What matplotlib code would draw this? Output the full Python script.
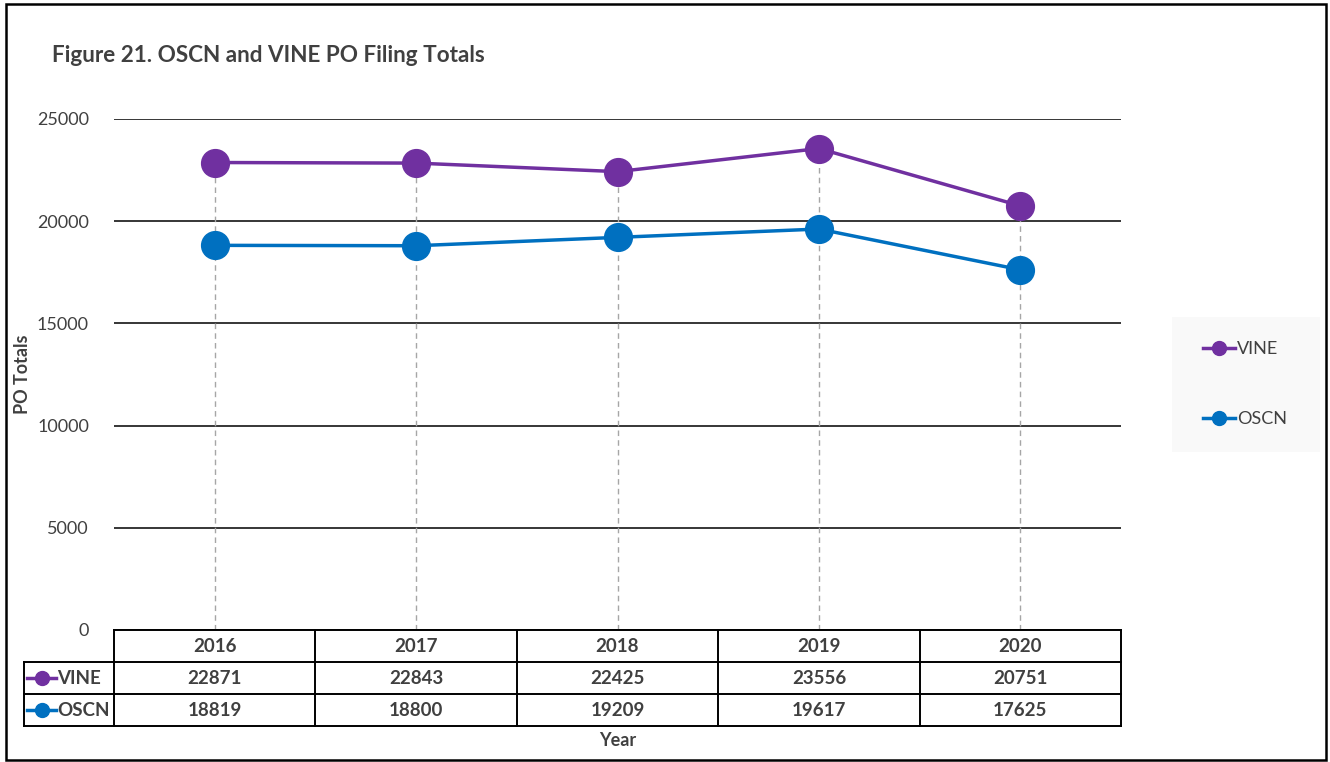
import numpy as np
import matplotlib.pyplot as plt
from matplotlib.lines import Line2D
from matplotlib.patches import Rectangle

plt.rcParams['font.family'] = ['Lato', 'DejaVu Sans']

# data
years = ['2016', '2017', '2018', '2019', '2020']
vine = [22871, 22843, 22425, 23556, 20751]
oscn = [18819, 18800, 19209, 19617, 17625]
series_names = ['VINE', 'OSCN']
series_colors = ['#7030A0', '#0070C0']
yticks = [0, 5000, 10000, 15000, 20000, 25000]

txt = '#404040'
W, H = 1330, 762

fig = plt.figure(figsize=(W / 100, H / 100), dpi=100)

# axes placed by pixel box
x0, x1, ytop, ybot = 114, 1121, 119, 630
ax = fig.add_axes([x0 / W, 1 - ybot / H, (x1 - x0) / W, (ybot - ytop) / H])

x = np.arange(len(years))
ax.set_xlim(-0.5, len(years) - 0.5)
ax.set_ylim(0, 25000)

for vals, name, col in zip([vine, oscn], series_names, series_colors):
    ax.plot(x, vals, color=col, lw=2.5, marker='o', markersize=20, zorder=4, label=name)

# drop lines
top = np.maximum(vine, oscn)
for xi, t in zip(x, top):
    ax.plot([xi, xi], [0, t], color='#a6a6a6', lw=1, ls=(0, (4, 3)), zorder=2)

ax.set_yticks(yticks)
ax.set_yticklabels([str(v) for v in yticks], fontsize=13, color=txt)
ax.tick_params(axis='y', length=0, pad=18)
ax.set_xticks([])
ax.grid(axis='y', color='black', lw=1.1)
ax.set_axisbelow(True)
for s in ax.spines.values():
    s.set_visible(False)

ax.set_ylabel('PO Totals', fontsize=13, fontweight='bold', color=txt)
ax.yaxis.set_label_coords(-0.082, 0.5)

# data table under the plot, in axes coordinates
ph = ybot - ytop
rh = 32.0 / ph
lab_left = (24 - x0) / (x1 - x0)
tr = ax.transAxes
lk = dict(transform=tr, color='black', lw=1.4, clip_on=False, zorder=5)

def hline(y, xa, xb):
    ax.add_line(Line2D([xa, xb], [y, y], **lk))

def vline(xv, ya, yb):
    ax.add_line(Line2D([xv, xv], [ya, yb], **lk))

hline(0, 0, 1)
for k in range(1, 4):
    hline(-k * rh, lab_left, 1)
vline(lab_left, -rh, -3 * rh)
for k in range(len(years) + 1):
    vline(k / len(years), 0, -3 * rh)

for i, yr in enumerate(years):
    cx = (i + 0.5) / len(years)
    ax.text(cx, -0.5 * rh, yr, transform=tr, ha='center', va='center',
            fontsize=13.5, fontweight='bold', color=txt)
    for r, vals in enumerate([vine, oscn]):
        ax.text(cx, -(r + 1.5) * rh, str(vals[i]), transform=tr, ha='center',
                va='center', fontsize=13.5, fontweight='bold', color=txt)

for r, (name, col) in enumerate(zip(series_names, series_colors)):
    yy = -(r + 1.5) * rh
    xa = (27 - x0) / (x1 - x0)
    xb = (56 - x0) / (x1 - x0)
    ax.add_line(Line2D([xa, xb], [yy, yy], transform=tr, color=col, lw=2.5, clip_on=False))
    ax.plot([(xa + xb) / 2], [yy], marker='o', markersize=10, color=col,
            transform=tr, clip_on=False)
    ax.text((57 - x0) / (x1 - x0), yy, name, transform=tr, ha='left', va='center',
            fontsize=13.5, fontweight='bold', color=txt)

fig.text((x0 + x1) / 2 / W, 1 - 741 / H, 'Year', ha='center', va='center',
         fontsize=13, fontweight='bold', color=txt)

# title
fig.text(52 / W, 1 - 55 / H, 'Figure 21. OSCN and VINE PO Filing Totals',
         ha='left', va='center', fontsize=16.2, fontweight='bold', color=txt)

# legend box
fig.patches.append(Rectangle((1172 / W, 1 - 452 / H), 148 / W, 135 / H,
                             transform=fig.transFigure, facecolor='#f9f9f9',
                             edgecolor='none', zorder=0))
handles = [Line2D([], [], color=c, lw=2.5, marker='o', markersize=10) for c in series_colors]
fig.legend(handles, series_names, loc='center', bbox_to_anchor=(1245 / W, 1 - 384 / H),
           frameon=False, fontsize=13, labelcolor=txt, labelspacing=3.0,
           handlelength=1.75, handletextpad=0.1)

# outer frame
fig.patches.append(Rectangle((6 / W, 2 / H), 1320 / W, 756 / H, transform=fig.transFigure,
                             facecolor='none', edgecolor='black', lw=1.8, zorder=10))

fig.savefig('out.png', dpi=100)
